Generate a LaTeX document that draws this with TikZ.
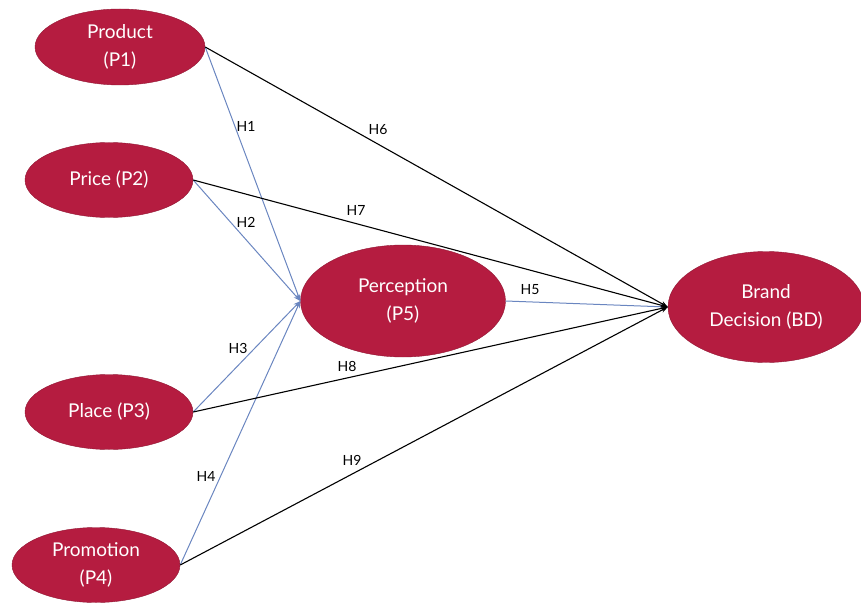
\documentclass[tikz,border=0pt]{standalone}
\usepackage{fontspec}
\setmainfont{Lato}
\usepackage{tikz}
\usepackage{xcolor}
\usetikzlibrary{shapes.geometric,arrows.meta}
\definecolor{construct-red}{HTML}{B51C40}
\definecolor{path-blue}{HTML}{6A86C0}
\tikzset{
    construct/.style = {ellipse, fill=construct-red, draw=construct-red!80!black, thin, text=white, font=\fontsize{19}{28}\selectfont, align=center, inner sep=0pt},
    link-blue/.style = {draw=path-blue, line width=1pt, -{Stealth[length=7pt,width=5pt]}},
    link-black/.style = {draw=black, line width=1.1pt, -{Stealth[length=7pt,width=5pt]}},
    hyp/.style = {font=\fontsize{14}{16}\selectfont, text=black},
}
\begin{document}
\begin{tikzpicture}[x=1pt, y=-1pt]
\useasboundingbox (0,0) rectangle (861,604);
\node [construct, minimum width=170pt, minimum height=76pt] (p1) at (120,47) {Product\\(P1)};
\node [construct, minimum width=168pt, minimum height=75pt] (p2) at (109,180) {Price (P2)};
\node [construct, minimum width=168pt, minimum height=75pt] (p3) at (109,412) {Place (P3)};
\node [construct, minimum width=168pt, minimum height=75pt] (p4) at (96,565) {Promotion\\(P4)};
\node [construct, minimum width=205pt, minimum height=112pt] (p5) at (403,301) {Perception\\(P5)};
\node [construct, minimum width=196pt, minimum height=111pt] (bd) at (766,307) {Brand\\Decision (BD)};

\draw [link-blue] (p1.east) -- (p5.west);
\draw [link-blue] (p2.east) -- (p5.west);
\draw [link-blue] (p3.east) -- (p5.west);
\draw [link-blue] (p4.east) -- (p5.west);
\draw [link-blue] (p5.east) -- (bd.west);
\draw [link-black] (p1.east) -- (bd.west);
\draw [link-black] (p2.east) -- (bd.west);
\draw [link-black] (p3.east) -- (bd.west);
\draw [link-black] (p4.east) -- (bd.west);

\node [hyp] (h1) at (246,126) {H1};
\node [hyp] (h2) at (246,222) {H2};
\node [hyp] (h3) at (238,348) {H3};
\node [hyp] (h4) at (206,476) {H4};
\node [hyp] (h5) at (530,290) {H5};
\node [hyp] (h6) at (378,130) {H6};
\node [hyp] (h7) at (356,210) {H7};
\node [hyp] (h8) at (347,366) {H8};
\node [hyp] (h9) at (352,460) {H9};
\end{tikzpicture}
\end{document}
